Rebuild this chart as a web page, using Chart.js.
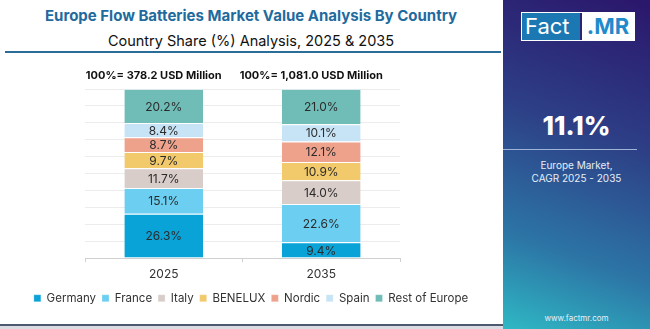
<!DOCTYPE html>
<html>
<head>
<meta charset="utf-8">
<script src="https://cdn.jsdelivr.net/npm/chart.js@4/dist/chart.umd.min.js"></script>
<style>
  html, body { margin: 0; padding: 0; }
  body { width: 650px; height: 329px; position: relative; overflow: hidden; background: #fff; font-family: Inter, "Open Sans", sans-serif; }
  #title { position: absolute; left: 0; width: 502px; top: 6px; text-align: center; font-weight: 700; font-size: 15px; color: #1f6b9e; }
  #subtitle { position: absolute; left: 0; width: 502px; top: 32px; text-align: center; font-size: 14.5px; color: #111; }
  #rule { position: absolute; left: 5px; width: 496px; top: 51px; height: 2px; background: #2a6d98; }
  #chartbox { position: absolute; left: 0; top: 60px; width: 502px; height: 254px; }
  #bottomline { position: absolute; left: 0; width: 503px; top: 324px; height: 2px; background: #4d5a6e; }
  #under { position: absolute; left: 0; width: 650px; top: 326px; height: 3px; background: #d9dde3; }
  #panel { position: absolute; left: 503px; top: 0; width: 147px; height: 329px;
    background: linear-gradient(200deg, #2b166b 0%, #2d3f86 40%, #2c76a6 75%, #2fb8c4 100%); color: #fff; }
  #logo { position: absolute; left: 18px; top: 12px; height: 27px; width: 112px; border: 1px solid #fff; display: flex; font-size: 22px; line-height: 27px; }
  #logo .a { background: #1b78b2; color: #fff; width: 58px; padding-left: 3px; box-sizing: border-box; }
  #logo .b { background: #fff; color: #1f8bcc; font-weight: 700; flex: 1; text-align: center; margin-left: 2px; }
  #cagr { position: absolute; left: 0; width: 147px; top: 110px; text-align: center; font-weight: 800; font-size: 26px; }
  #hr { position: absolute; left: 0; width: 134px; top: 149px; height: 1px; background: #9fb4d6; }
  #desc { position: absolute; left: 0; width: 147px; top: 159px; text-align: center; font-size: 10px; line-height: 13px; color: #e8eef8; }
  #site { position: absolute; left: 0; width: 147px; top: 313px; text-align: center; font-size: 8px; color: #e8eef8; }
</style>
</head>
<body>
<div id="title">Europe Flow Batteries Market Value Analysis By Country</div>
<div id="subtitle">Country Share (%) Analysis, 2025 &amp; 2035</div>
<div id="rule"></div>
<div id="chartbox"><canvas id="canvas"></canvas></div>
<div id="bottomline"></div>
<div id="under"></div>
<div id="panel">
  <div id="logo"><span class="a">Fact</span><span class="b">.MR</span></div>
  <div id="cagr">11.1%</div>
  <div id="hr"></div>
  <div id="desc">Europe Market,<br>CAGR 2025 - 2035</div>
  <div id="site">www.factmr.com</div>
</div>
<script>
// categories
var years = ["2025", "2035"];
var totals = ["100%= 378.2 USD Million", "100%= 1,081.0 USD Million"];
// series (share %)
var countries = ["Germany", "France", "Italy", "BENELUX", "Nordic", "Spain", "Rest of Europe"];
var germany = [26.3, 9.4];
var france = [15.1, 22.6];
var italy = [11.7, 14.0];
var benelux = [9.7, 10.9];
var nordic = [8.7, 12.1];
var spain = [8.4, 10.1];
var restOfEurope = [20.2, 21.0];
var colors = ["#0aa3d8", "#6ccff1", "#d8cdc9", "#f2c96b", "#eea18b", "#c7e4f6", "#6fbdb6"];

var seriesData = [germany, france, italy, benelux, nordic, spain, restOfEurope];

var segmentLabels = {
    id: "segmentLabels",
    afterDatasetsDraw: function(chart) {
        var ctx = chart.ctx;
        ctx.save();
        ctx.font = "12px Inter, 'Open Sans', sans-serif";
        ctx.fillStyle = "#2b2b2b";
        ctx.textAlign = "center";
        ctx.textBaseline = "middle";
        chart.data.datasets.forEach(function(ds, i) {
            chart.getDatasetMeta(i).data.forEach(function(bar, j) {
                var y = (bar.y + bar.base) / 2;
                ctx.fillText(ds.data[j].toFixed(1) + "%", bar.x, y + 1);
            });
        });
        // totals above bars
        ctx.font = "bold 11px Inter, 'Open Sans', sans-serif";
        ctx.fillStyle = "#111";
        var top = chart.getDatasetMeta(chart.data.datasets.length - 1).data;
        top.forEach(function(bar, j) {
            ctx.fillText(totals[j], bar.x - 10, chart.chartArea.top - 13);
        });
        ctx.restore();
    }
};

window.onload = function() {
    var ctx = document.getElementById("canvas").getContext("2d");
    window.myBar = new Chart(ctx, {
        type: "bar",
        data: {
            labels: years,
            datasets: countries.map(function(name, i) {
                return {
                    label: name,
                    data: seriesData[i],
                    backgroundColor: colors[i],
                    borderColor: "#ffffff",
                    borderWidth: { top: 1, bottom: 0, left: 0, right: 0 },
                    borderSkipped: false,
                    categoryPercentage: 1,
                    barPercentage: 0.5
                };
            })
        },
        options: {
            responsive: true,
            maintainAspectRatio: false,
            animation: false,
            layout: { padding: { left: 0, right: 0, top: 29, bottom: 0 } },
            plugins: {
                tooltip: { enabled: false },
                legend: {
                    position: "bottom",
                    labels: {
                        boxWidth: 7,
                        boxHeight: 7,
                        padding: 6,
                        color: "#333",
                        font: { size: 11.5, family: "Inter, 'Open Sans', sans-serif" }
                    }
                }
            },
            scales: {
                x: {
                    stacked: true,
                    grid: { display: true, offset: true, drawOnChartArea: false, tickLength: 4, color: "#d0d0d0" },
                    border: { color: "#d0d0d0" },
                    ticks: { color: "#333", font: { size: 12, family: "Inter, 'Open Sans', sans-serif" }, padding: 5 }
                },
                y: {
                    stacked: true,
                    min: 0,
                    max: 100,
                    afterFit: function(scale) { scale.width = 85; },
                    ticks: { display: false, stepSize: 10 },
                    grid: { color: "#ececec", drawTicks: false },
                    border: { display: false }
                },
                yRight: {
                    position: "right",
                    display: true,
                    afterFit: function(scale) { scale.width = 102; },
                    ticks: { display: false },
                    grid: { display: false },
                    border: { display: false }
                }
            }
        },
        plugins: [segmentLabels]
    });
};
</script>
</body>
</html>
